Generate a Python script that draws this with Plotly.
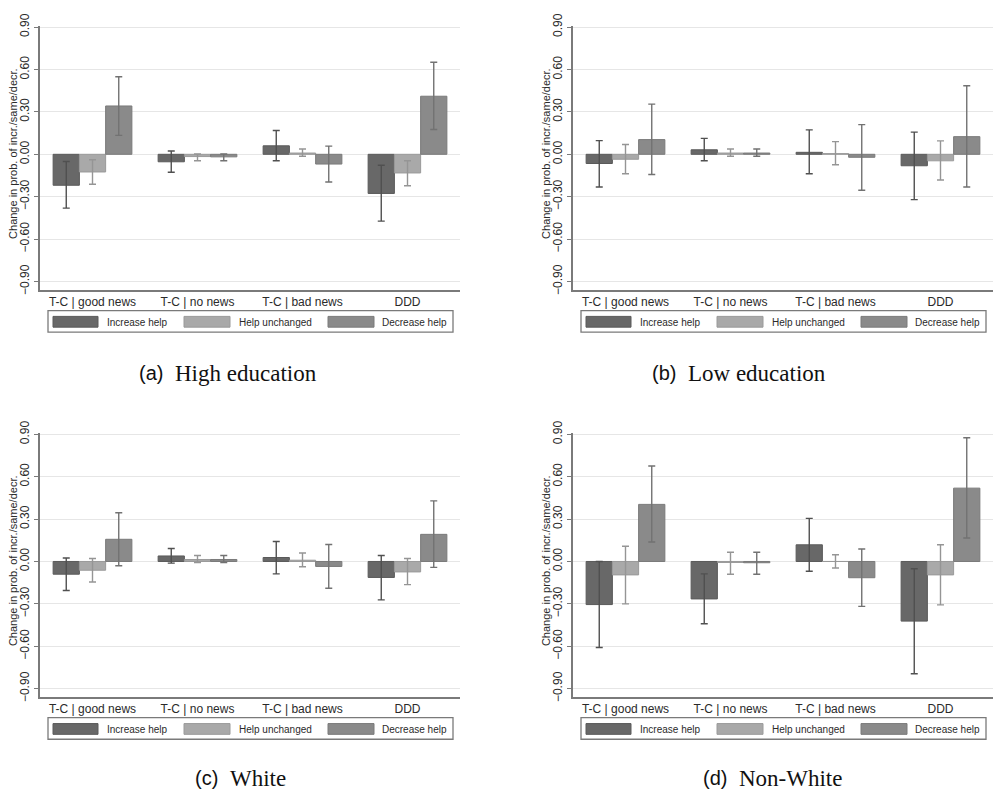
import plotly.graph_objects as go

W, H = 995, 801

categories = ["T-C | good news", "T-C | no news", "T-C | bad news", "DDD"]
series_names = ["Increase help", "Help unchanged", "Decrease help"]
y_ticks = [-0.9, -0.6, -0.3, 0.0, 0.3, 0.6, 0.9]
y_title = "Change in prob. of incr./same/decr."

# (a) High education
hi_edu_inc = [-0.219, -0.053, 0.060, -0.277]
hi_edu_inc_lo = [-0.381, -0.127, -0.046, -0.473]
hi_edu_inc_hi = [-0.051, 0.023, 0.168, -0.078]
hi_edu_same = [-0.125, -0.016, 0.009, -0.132]
hi_edu_same_lo = [-0.212, -0.046, -0.014, -0.222]
hi_edu_same_hi = [-0.039, 0.002, 0.037, -0.046]
hi_edu_dec = [0.342, -0.018, -0.069, 0.411]
hi_edu_dec_lo = [0.134, -0.046, -0.196, 0.175]
hi_edu_dec_hi = [0.549, 0.002, 0.058, 0.651]

# (b) Low education
lo_edu_inc = [-0.065, 0.032, 0.014, -0.081]
lo_edu_inc_lo = [-0.231, -0.046, -0.138, -0.321]
lo_edu_inc_hi = [0.097, 0.113, 0.173, 0.157]
lo_edu_same = [-0.035, 0.009, 0.005, -0.046]
lo_edu_same_lo = [-0.138, -0.014, -0.074, -0.182]
lo_edu_same_hi = [0.069, 0.037, 0.090, 0.095]
lo_edu_dec = [0.104, 0.009, -0.021, 0.125]
lo_edu_dec_lo = [-0.143, -0.014, -0.254, -0.231]
lo_edu_dec_hi = [0.355, 0.037, 0.210, 0.485]

# (c) White
white_inc = [-0.090, 0.039, 0.028, -0.113]
white_inc_lo = [-0.205, -0.012, -0.088, -0.272]
white_inc_hi = [0.025, 0.092, 0.141, 0.042]
white_same = [-0.062, 0.014, 0.009, -0.074]
white_same_lo = [-0.145, -0.007, -0.037, -0.164]
white_same_hi = [0.021, 0.042, 0.060, 0.021]
white_dec = [0.157, 0.014, -0.035, 0.192]
white_dec_lo = [-0.030, -0.007, -0.189, -0.042]
white_dec_hi = [0.345, 0.042, 0.120, 0.429]

# (d) Non-White
nonwhite_inc = [-0.305, -0.265, 0.118, -0.422]
nonwhite_inc_lo = [-0.609, -0.441, -0.069, -0.794]
nonwhite_inc_hi = [0.000, -0.088, 0.305, -0.051]
nonwhite_same = [-0.095, -0.007, 0.000, -0.095]
nonwhite_same_lo = [-0.300, -0.090, -0.046, -0.307]
nonwhite_same_hi = [0.108, 0.065, 0.048, 0.118]
nonwhite_dec = [0.404, -0.009, -0.115, 0.519]
nonwhite_dec_lo = [0.138, -0.090, -0.318, 0.166]
nonwhite_dec_hi = [0.676, 0.065, 0.088, 0.875]

panels = [
    ("(a)", "High education", [(hi_edu_inc, hi_edu_inc_lo, hi_edu_inc_hi),
                                (hi_edu_same, hi_edu_same_lo, hi_edu_same_hi),
                                (hi_edu_dec, hi_edu_dec_lo, hi_edu_dec_hi)]),
    ("(b)", "Low education", [(lo_edu_inc, lo_edu_inc_lo, lo_edu_inc_hi),
                               (lo_edu_same, lo_edu_same_lo, lo_edu_same_hi),
                               (lo_edu_dec, lo_edu_dec_lo, lo_edu_dec_hi)]),
    ("(c)", "White", [(white_inc, white_inc_lo, white_inc_hi),
                      (white_same, white_same_lo, white_same_hi),
                      (white_dec, white_dec_lo, white_dec_hi)]),
    ("(d)", "Non-White", [(nonwhite_inc, nonwhite_inc_lo, nonwhite_inc_hi),
                          (nonwhite_same, nonwhite_same_lo, nonwhite_same_hi),
                          (nonwhite_dec, nonwhite_dec_lo, nonwhite_dec_hi)]),
]

# layout (pixels) for each panel
offsets = [(0, 0), (533, 0), (0, 416), (533, 416)]
caption_starts = [173, 686, 228, 737]
caption_ys = [369, 369, 783, 783]

bar_colors = ["#686868", "#a9a9a9", "#8a8a8a"]
bar_lines = ["#5a5a5a", "#9a9a9a", "#7a7a7a"]
err_colors = ["#505050", "#959595", "#727272"]

SANS = "Liberation Sans, Arial, sans-serif"
SERIF = "Liberation Serif, Times New Roman, serif"


def px_x(x):
    return x / W


def px_y(y):
    return 1 - y / H


fig = go.Figure()
shapes = []
annotations = []

for i, (tag, caption, series) in enumerate(panels):
    dx, dy = offsets[i]
    ax = "" if i == 0 else str(i + 1)
    for k, (vals, lo, hi) in enumerate(series):
        fig.add_trace(go.Bar(
            x=categories, y=vals, name=series_names[k],
            xaxis="x" + ax, yaxis="y" + ax, showlegend=False,
            offsetgroup=str(k),
            marker=dict(color=bar_colors[k], line=dict(color=bar_lines[k], width=1)),
            error_y=dict(type="data", symmetric=False,
                         array=[h - v for h, v in zip(hi, vals)],
                         arrayminus=[v - l for v, l in zip(vals, lo)],
                         color=err_colors[k], thickness=1.4, width=3.5),
        ))
    x0, x1 = 40 + dx, 460 + dx
    y0, y1 = 14 + dy, 284 + dy
    fig.layout["xaxis" + ax] = dict(
        domain=[px_x(x0), px_x(x1)], anchor="y" + ax, range=[-0.5, 3.5],
        showline=True, linecolor="#7a7a7a", linewidth=1.5, ticks="",
        showgrid=False, tickfont=dict(family=SANS, size=12, color="#2a2a2a"),
        fixedrange=True,
    )
    fig.layout["yaxis" + ax] = dict(
        domain=[px_y(y1), px_y(y0)], anchor="x" + ax, range=[-0.96, 0.91],
        tickvals=y_ticks, tickformat=".2f", tickangle=-90,
        showline=True, linecolor="#7a7a7a", linewidth=1.5,
        ticks="outside", ticklen=4, tickcolor="#7a7a7a", tickwidth=1,
        showgrid=True, gridcolor="#e6e6e6", gridwidth=1,
        zeroline=True, zerolinecolor="#e6e6e6", zerolinewidth=1,
        tickfont=dict(family=SANS, size=12, color="#2a2a2a"),
        fixedrange=True,
    )
    # axis title
    annotations.append(dict(
        x=px_x(13 + dx), y=px_y(145 + dy), xref="paper", yref="paper",
        text=y_title, textangle=-90, showarrow=False,
        font=dict(family=SANS, size=11, color="#2a2a2a"),
        xanchor="center", yanchor="middle"))
    # legend box
    shapes.append(dict(type="rect", xref="paper", yref="paper",
                       x0=px_x(48 + dx), x1=px_x(453 + dx),
                       y0=px_y(327 + dy), y1=px_y(305 + dy),
                       line=dict(color="#7a7a7a", width=1.3), fillcolor="white"))
    sw = [(53, 98), (184, 230), (328, 374)]
    tx = [105, 237, 380]
    for k in range(3):
        shapes.append(dict(type="rect", xref="paper", yref="paper",
                           x0=px_x(sw[k][0] + dx), x1=px_x(sw[k][1] + dx),
                           y0=px_y(322 + dy), y1=px_y(311 + dy),
                           line=dict(color=bar_lines[k], width=1),
                           fillcolor=bar_colors[k]))
        annotations.append(dict(
            x=px_x(tx[k] + dx), y=px_y(317 + dy), xref="paper", yref="paper",
            text=series_names[k], showarrow=False,
            font=dict(family=SANS, size=10, color="#2a2a2a"),
            xanchor="left", yanchor="middle"))
    # caption
    cs = caption_starts[i]
    cy = caption_ys[i]
    annotations.append(dict(
        x=px_x(cs - 8), y=px_y(cy), xref="paper", yref="paper",
        text=tag, showarrow=False,
        font=dict(family=SANS, size=20, color="#111111"),
        xanchor="right", yanchor="middle"))
    annotations.append(dict(
        x=px_x(cs), y=px_y(cy), xref="paper", yref="paper",
        text=caption, showarrow=False,
        font=dict(family=SERIF, size=23, color="#111111"),
        xanchor="left", yanchor="middle"))

fig.update_layout(
    width=W, height=H, margin=dict(l=0, r=0, t=0, b=0),
    paper_bgcolor="white", plot_bgcolor="white",
    barmode="group", bargap=0.25, bargroupgap=0,
    shapes=shapes, annotations=annotations,
)

fig.write_html("out.html", config={"displayModeBar": False},
               post_script="document.body.style.margin='0';document.body.style.padding='0';")
